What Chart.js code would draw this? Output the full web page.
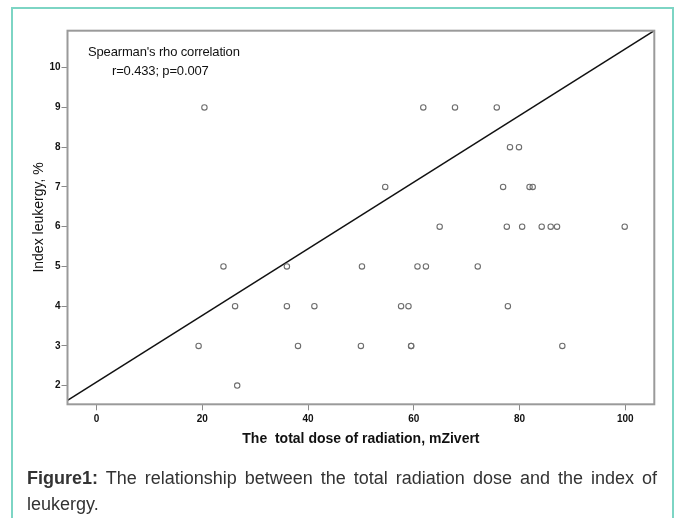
<!DOCTYPE html>
<html>
<head>
<meta charset="utf-8">
<script src="https://cdn.jsdelivr.net/npm/chart.js@4"></script>
<style>
html,body{margin:0;padding:0;background:#fff;}
body{width:676px;height:518px;position:relative;overflow:hidden;font-family:"Liberation Sans",Arial,sans-serif;}
#frame{position:absolute;left:11px;top:7px;width:663px;height:540px;border:2px solid #7dd5c4;box-sizing:border-box;}
canvas{position:absolute;left:0;top:0;}
.note{position:absolute;font-size:13px;line-height:15px;color:#111;white-space:nowrap;letter-spacing:-0.15px;}
#caption{position:absolute;left:27px;top:465px;width:630px;font-size:18px;line-height:26px;color:#333;text-align:justify;}
</style>
</head>
<body>
<div id="frame"></div>
<canvas id="scatter" width="676" height="518"></canvas>
<div class="note" style="left:88px;top:44px">Spearman's rho correlation</div>
<div class="note" style="left:112px;top:63px">r=0.433; p=0.007</div>
<div id="caption"><b>Figure1:</b> The relationship between the total radiation dose and the index of leukergy.</div>
<script>
// dose (mZivert) and index of leukergy (%), one pair per patient
const doseValues = [
  20.4, 61.8, 67.8, 75.7,
  78.2, 79.9,
  54.6, 76.9, 81.9, 82.5,
  64.9, 77.6, 80.5, 84.2, 85.9, 87.1, 99.9,
  24.0, 36.0, 50.2, 60.7, 62.3, 72.1,
  26.2, 36.0, 41.2, 57.6, 59.0, 77.8,
  19.3, 38.1, 50.0, 59.5, 59.5, 88.1,
  26.6
];
const leukergyValues = [
  9, 9, 9, 9,
  8, 8,
  7, 7, 7, 7,
  6, 6, 6, 6, 6, 6, 6,
  5, 5, 5, 5, 5, 5,
  4, 4, 4, 4, 4, 4,
  3, 3, 3, 3, 3, 3,
  2
];
const xTicks = [0, 20, 40, 60, 80, 100];
const yTicks = [2, 3, 4, 5, 6, 7, 8, 9, 10];
const xMin = -5.5, xMax = 105.5;
const yMin = 1.53, yMax = 10.93;
// fit line
const fitIntercept = 2.09;
const fitSlope = 0.0838;

const points = doseValues.map((d, i) => ({x: d, y: leukergyValues[i]}));
const fitLine = [xMin, xMax].map(x => ({x: x, y: fitIntercept + fitSlope * x}));

const framePlugin = {
  id: 'frame',
  afterDatasetsDraw(chart) {
    const {ctx, chartArea: a} = chart;
    ctx.save();
    ctx.strokeStyle = '#9a9a9a';
    ctx.lineWidth = 2;
    ctx.strokeRect(a.left, a.top, a.right - a.left, a.bottom - a.top);
    ctx.restore();
  }
};

document.addEventListener('DOMContentLoaded', () => {
  if (typeof Chart === 'undefined') return;
  const el = document.getElementById('scatter');
  new Chart(el, {
    type: 'scatter',
    data: {
      datasets: [{
        data: points,
        backgroundColor: 'rgba(0,0,0,0)',
        borderColor: '#6e6e6e',
        borderWidth: 1.1,
        pointRadius: 2.7
      }, {
        data: fitLine,
        showLine: true,
        borderColor: '#111',
        borderWidth: 1.5,
        pointRadius: 0
      }]
    },
    options: {
      responsive: false,
      animation: false,
      devicePixelRatio: 1,
      layout: {padding: {left: 0, top: 30.7, right: 21.7, bottom: 63}},
      plugins: {legend: {display: false}, tooltip: {enabled: false}},
      scales: {
        x: {
          type: 'linear',
          min: xMin, max: xMax,
          afterBuildTicks: s => { s.ticks = xTicks.map(v => ({value: v})); },
          afterFit: s => { s.height = 50.7; },
          grid: {drawOnChartArea: false, drawTicks: true, tickLength: 6, color: '#8a8a8a'},
          border: {display: false},
          ticks: {padding: 3, color: '#111', font: {family: 'Liberation Sans', size: 10, weight: 'bold'}},
          title: {display: true, text: 'The  total dose of radiation, mZivert', color: '#111',
            padding: {top: 0, bottom: 7}, font: {family: 'Liberation Sans', size: 14, weight: 'bold'}}
        },
        y: {
          type: 'linear',
          min: yMin, max: yMax,
          afterBuildTicks: s => { s.ticks = yTicks.map(v => ({value: v})); },
          afterFit: s => { s.width = 67.5; },
          grid: {drawOnChartArea: false, drawTicks: true, tickLength: 6, color: '#8a8a8a'},
          border: {display: false},
          ticks: {padding: 1, color: '#111', font: {family: 'Liberation Sans', size: 10, weight: 'bold'}},
          title: {display: true, text: 'Index leukergy, %', color: '#111',
            padding: {top: 31, bottom: 0}, font: {family: 'Liberation Sans', size: 14}}
        }
      }
    },
    plugins: [framePlugin]
  });
});
</script>
</body>
</html>
